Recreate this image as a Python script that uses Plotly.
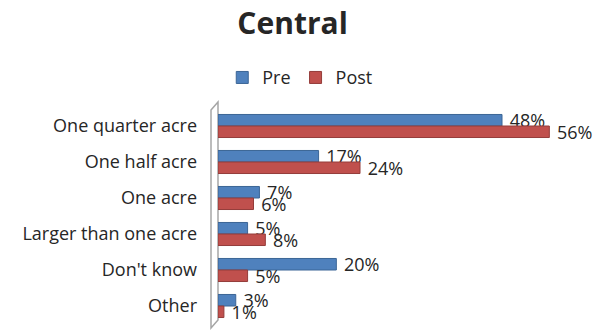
import plotly.graph_objects as go

categories = ["One quarter acre", "One half acre", "One acre", "Larger than one acre", "Don't know", "Other"]
pre = [48, 17, 7, 5, 20, 3]
post = [56, 24, 6, 8, 5, 1]

FONT = "Open Sans"
W, H = 616, 331
L, R, T, B = 218, 43, 108, 7

fig = go.Figure()
fig.add_trace(go.Bar(
    name="Pre", y=categories, x=pre, orientation="h",
    marker=dict(color="#4F81BD", line=dict(color="#3B6596", width=1)),
    texttemplate="\u00a0%{x}%", textposition="outside", constraintext="none",
    textfont=dict(size=18, color="#262626", family=FONT), cliponaxis=False,
))
fig.add_trace(go.Bar(
    name="Post", y=categories, x=post, orientation="h",
    marker=dict(color="#C0504D", line=dict(color="#943C3A", width=1)),
    texttemplate="\u00a0%{x}%", textposition="outside", constraintext="none",
    textfont=dict(size=18, color="#262626", family=FONT), cliponaxis=False,
))

pw = W - L - R
ph = H - T - B
def px(x):
    return (x - L) / pw
def py(y):
    return (H - B - y) / ph

wall = "M {} {} L {} {} L {} {} L {} {} Z".format(
    px(211), py(110), px(218), py(102), px(218), py(320), px(211), py(328))

fig.update_layout(
    width=W, height=H,
    margin=dict(l=L, r=R, t=T, b=B, autoexpand=False),
    paper_bgcolor="white", plot_bgcolor="white",
    font=dict(family=FONT, size=18, color="#262626"),
    title=dict(text="<b>Central</b>", x=0.475, xanchor="center", y=0.93, yanchor="middle",
               font=dict(size=30, family=FONT, color="#262626")),
    barmode="group", bargap=0.36, bargroupgap=0,
    showlegend=True,
    legend=dict(orientation="h", x=0.012, xanchor="left", y=1.14, yanchor="middle",
                font=dict(size=18, family=FONT), itemwidth=30, traceorder="normal",
                bgcolor="rgba(0,0,0,0)", tracegroupgap=0),
    xaxis=dict(range=[0, 60], showgrid=False, zeroline=False, showticklabels=False,
               ticks="", showline=False),
    yaxis=dict(autorange="reversed", showgrid=False, zeroline=False, ticks="",
               showline=False, ticklabelstandoff=20, tickfont=dict(size=18, family=FONT)),
    shapes=[dict(type="path", path=wall, xref="paper", yref="paper",
                 line=dict(color="#A6A6A6", width=1.5), fillcolor="rgba(0,0,0,0)", layer="below")],
)

fig.write_html("out.html", config={"displayModeBar": False},
               post_script="document.body.style.margin='0';")
